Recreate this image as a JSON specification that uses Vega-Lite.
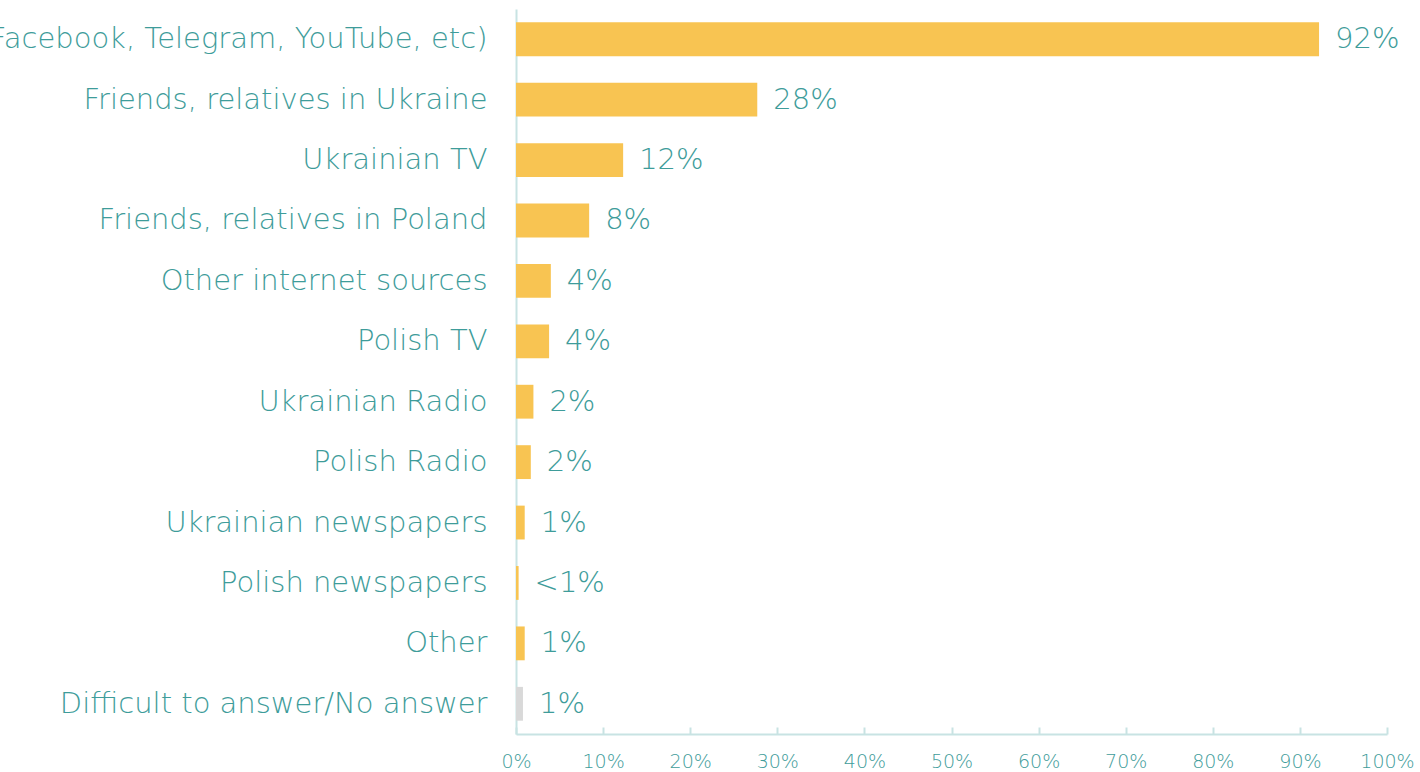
{
  "$schema": "https://vega.github.io/schema/vega-lite/v6.json",
  "autosize": {"type": "none"},
  "width": 871,
  "height": 725,
  "padding": {"left": 516, "top": 9, "right": 33, "bottom": 38},
  "background": "white",
  "config": {"view": {"stroke": null}, "font": "DejaVu Sans"},
  "data": {
    "values": [
      {"source": "Social media (Facebook, Telegram, YouTube, etc)", "value": 92.2, "label": "92%", "kind": "main"},
      {"source": "Friends, relatives in Ukraine", "value": 27.7, "label": "28%", "kind": "main"},
      {"source": "Ukrainian TV", "value": 12.3, "label": "12%", "kind": "main"},
      {"source": "Friends, relatives in Poland", "value": 8.4, "label": "8%", "kind": "main"},
      {"source": "Other internet sources", "value": 4.0, "label": "4%", "kind": "main"},
      {"source": "Polish TV", "value": 3.8, "label": "4%", "kind": "main"},
      {"source": "Ukrainian Radio", "value": 2.0, "label": "2%", "kind": "main"},
      {"source": "Polish Radio", "value": 1.7, "label": "2%", "kind": "main"},
      {"source": "Ukrainian newspapers", "value": 1.0, "label": "1%", "kind": "main"},
      {"source": "Polish newspapers", "value": 0.3, "label": "<1%", "kind": "main"},
      {"source": "Other", "value": 1.0, "label": "1%", "kind": "main"},
      {"source": "Difficult to answer/No answer", "value": 0.8, "label": "1%", "kind": "na"}
    ]
  },
  "encoding": {
    "y": {
      "field": "source",
      "type": "nominal",
      "sort": null,
      "scale": {"paddingInner": 0.44, "paddingOuter": 0.22},
      "axis": {
        "title": null,
        "ticks": false,
        "domainColor": "#C8E3E3",
        "domainWidth": 2,
        "labelColor": "#3E9C9A",
        "labelFont": "DejaVu Sans",
        "labelFontWeight": 300,
        "labelFontSize": 29,
        "labelPadding": 29,
        "labelLimit": 0
      }
    },
    "x": {
      "field": "value",
      "type": "quantitative",
      "scale": {"domain": [0, 100], "nice": false},
      "axis": {
        "title": null,
        "grid": false,
        "values": [0, 10, 20, 30, 40, 50, 60, 70, 80, 90, 100],
        "labelExpr": "datum.value + '%'",
        "domainColor": "#C8E3E3",
        "domainWidth": 2,
        "tickColor": "#C8E3E3",
        "tickWidth": 2,
        "tickSize": -7,
        "labelColor": "#3E9C9A",
        "labelFont": "DejaVu Sans",
        "labelFontWeight": 300,
        "labelFontSize": 19,
        "labelPadding": 25,
        "labelFlush": false
      }
    }
  },
  "layer": [
    {
      "mark": {"type": "bar"},
      "encoding": {
        "color": {
          "field": "kind",
          "type": "nominal",
          "scale": {"domain": ["main", "na"], "range": ["#F8C452", "#D9D9D9"]},
          "legend": null
        }
      }
    },
    {
      "mark": {"type": "text", "align": "left", "baseline": "middle", "dx": 16, "fontSize": 29, "fontWeight": 300, "color": "#3E9C9A", "font": "DejaVu Sans"},
      "encoding": {"text": {"field": "label"}}
    }
  ]
}
